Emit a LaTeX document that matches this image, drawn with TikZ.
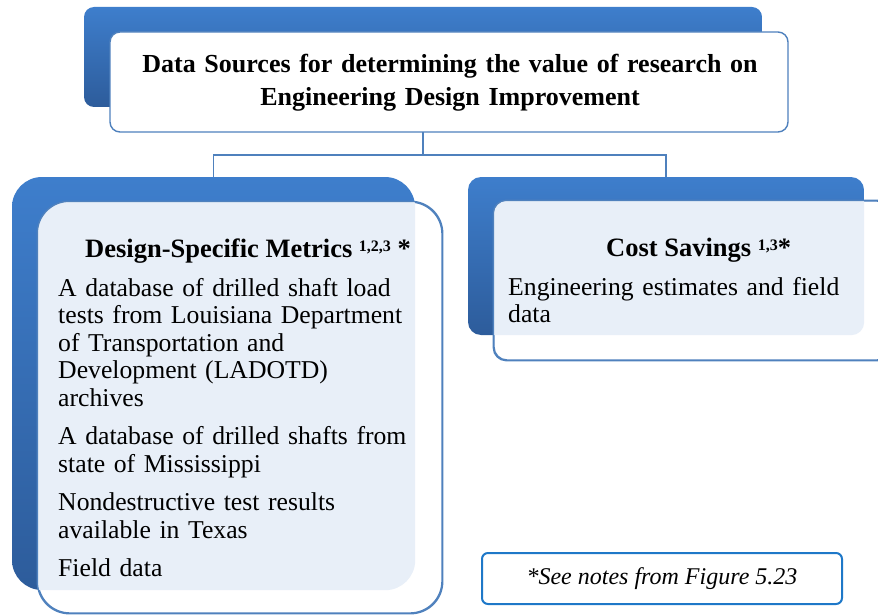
\documentclass[tikz,border=0pt]{standalone}
\usepackage{fontspec}
\setmainfont{Liberation Serif}
\definecolor{backtop}{RGB}{62,126,204}
\definecolor{backbot}{RGB}{45,92,155}
\definecolor{edgeblue}{RGB}{79,129,189}
\definecolor{panel}{RGB}{232,239,248}
\definecolor{noteblue}{RGB}{30,120,200}
\newcommand{\upnote}[1]{\raisebox{6pt}{\fontsize{16}{16}\selectfont #1}}

\begin{document}
\begin{tikzpicture}[x=1pt, y=-1pt,
    backbox/.style={rectangle, top color=backtop, bottom color=backbot, inner sep=0},
    frontbox/.style={rectangle, fill=white, draw=edgeblue, line width=1.4pt, inner sep=0},
    link/.style={draw=edgeblue, line width=1.5pt},
    body/.style={font=\fontsize{25.7}{27.5}\selectfont, inner sep=0, align=left},
    head/.style={font=\fontsize{26.5}{33}\selectfont\bfseries, inner sep=0}]

    \useasboundingbox (0,0) rectangle (878,615);
    \clip (0,0) rectangle (878,615);

    \node[backbox, rounded corners=10, minimum width=678, minimum height=100] (topback) at (423,57) {};
    \node[backbox, rounded corners=30, minimum width=403, minimum height=413] (metricsback) at (213.5,383.5) {};
    \node[backbox, rounded corners=13, minimum width=396, minimum height=158] (savingsback) at (666,256) {};

    % connectors, the front boxes hide their upper end
    \coordinate (fork) at (423,155);
    \draw[link] (topback.south) -- (fork);
    \draw[link] (metricsback.north) |- (fork) -| (savingsback.north);

    \node[frontbox, rounded corners=10, minimum width=678, minimum height=100] (title) at (449,82) {};
    \node[frontbox, rounded corners=32, minimum width=404, minimum height=411] (metrics) at (240,407.5) {};
    \node[frontbox, rounded corners=13, minimum width=396, minimum height=159] (savings) at (692,280.5) {};

    % shaded panel where front and back overlap
    \begin{scope}
        \clip[rounded corners=30] (metricsback.north west) rectangle (metricsback.south east);
        \fill[panel, rounded corners=32] (metrics.north west) rectangle (metrics.south east);
    \end{scope}
    \begin{scope}
        \clip[rounded corners=13] (savingsback.north west) rectangle (savingsback.south east);
        \fill[panel, rounded corners=13] (savings.north west) rectangle (savings.south east);
    \end{scope}
    \draw[edgeblue, line width=1.4pt, rounded corners=32] (metrics.north west) rectangle (metrics.south east);
    \draw[edgeblue, line width=1.4pt, rounded corners=13] (savings.north west) rectangle (savings.south east);

    \node[head, font=\fontsize{26}{33}\selectfont\bfseries, text width=700, align=center, anchor=north] (titletext) at (450,54)
        {Data Sources for determining the value of research on\\
         Engineering Design Improvement};

    \node[head, anchor=base west] (metricshead) at (85,257)
        {Design-Specific Metrics \upnote{1,2,3} *};
    \node[body, text width=375, anchor=north west] (metricsbody) at (58,278)
        {A database of drilled shaft load\\
         tests from Louisiana Department\\
         of Transportation and\\
         Development (LADOTD)\\
         archives\\[11pt]
         A database of drilled shafts from\\
         state of Mississippi\\[11pt]
         Nondestructive test results\\
         available in Texas\\[11pt]
         Field data};

    \node[head, anchor=base west] (savingshead) at (606,256)
        {Cost Savings \upnote{1,3}*};
    \node[body, text width=360, anchor=north west] (savingsbody) at (508,277)
        {Engineering estimates and field\\
         data};

    \node[rectangle, draw=noteblue, line width=2pt, rounded corners=6,
          minimum width=360, minimum height=51, inner sep=0,
          font=\fontsize{24}{28}\selectfont\itshape] (note) at (662,578.5)
        {*See notes from Figure 5.23};
\end{tikzpicture}
\end{document}
